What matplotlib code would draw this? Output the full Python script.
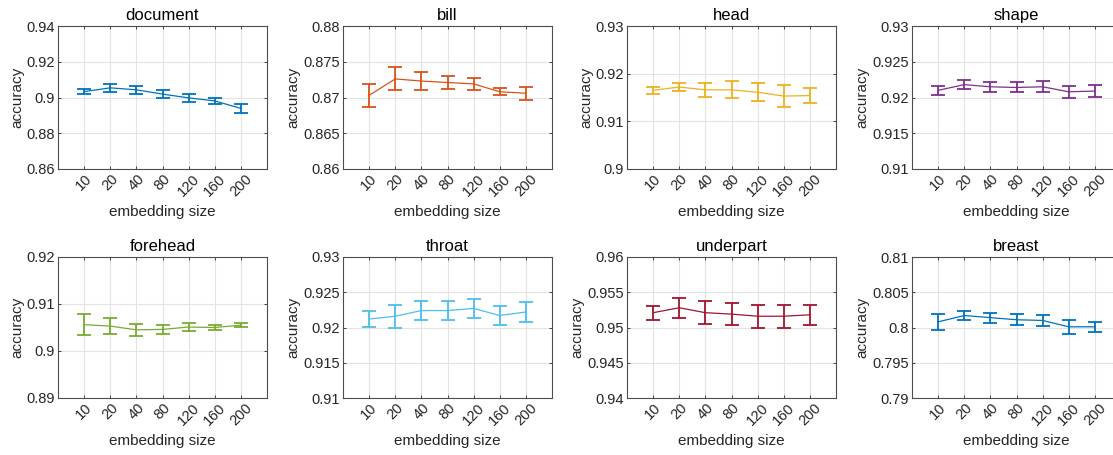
import numpy as np
import matplotlib.pyplot as plt
from matplotlib.ticker import FuncFormatter

plt.rcParams['font.family'] = ['Liberation Sans', 'DejaVu Sans']

sizes = ['10', '20', '40', '80', '120', '160', '200']
titles = ['document', 'bill', 'head', 'shape', 'forehead', 'throat', 'underpart', 'breast']
colors = ['#0072BD', '#D95319', '#EDB120', '#7E2F8E', '#77AC30', '#4DBEEE', '#A2142F', '#0072BD']

document_acc = [0.9033, 0.9054, 0.9043, 0.9019, 0.8998, 0.8981, 0.8939]
document_err = [0.0016, 0.0024, 0.0022, 0.0024, 0.0023, 0.0015, 0.0024]
bill_acc = [0.8703, 0.8726, 0.8723, 0.8721, 0.8719, 0.8708, 0.8706]
bill_err = [0.0016, 0.0016, 0.0012, 0.0009, 0.0008, 0.0005, 0.0009]
head_acc = [0.9165, 0.9172, 0.9166, 0.9166, 0.9161, 0.9153, 0.9154]
head_err = [0.0007, 0.0009, 0.0015, 0.0018, 0.0019, 0.0023, 0.0016]
shape_acc = [0.9210, 0.9218, 0.9215, 0.9214, 0.9215, 0.9208, 0.9209]
shape_err = [0.0006, 0.0006, 0.0007, 0.0007, 0.0008, 0.0008, 0.0008]
forehead_acc = [0.9056, 0.9053, 0.9045, 0.9046, 0.9051, 0.9050, 0.9055]
forehead_err = [0.0023, 0.0017, 0.0013, 0.0010, 0.0008, 0.0006, 0.0005]
throat_acc = [0.9212, 0.9216, 0.9224, 0.9224, 0.9227, 0.9217, 0.9222]
throat_err = [0.0011, 0.0016, 0.0013, 0.0014, 0.0014, 0.0013, 0.0014]
underpart_acc = [0.9521, 0.9528, 0.9521, 0.9519, 0.9516, 0.9516, 0.9518]
underpart_err = [0.0010, 0.0014, 0.0016, 0.0016, 0.0016, 0.0016, 0.0014]
breast_acc = [0.8008, 0.8017, 0.8014, 0.8011, 0.8010, 0.8001, 0.8001]
breast_err = [0.0011, 0.0007, 0.0007, 0.0008, 0.0008, 0.0010, 0.0007]

accs = [document_acc, bill_acc, head_acc, shape_acc, forehead_acc, throat_acc, underpart_acc, breast_acc]
errs = [document_err, bill_err, head_err, shape_err, forehead_err, throat_err, underpart_err, breast_err]
ylims = [(0.86, 0.94), (0.86, 0.88), (0.90, 0.93), (0.91, 0.93),
         (0.89, 0.92), (0.91, 0.93), (0.94, 0.96), (0.79, 0.81)]
ysteps = [0.02, 0.005, 0.01, 0.005, 0.01, 0.005, 0.005, 0.005]

W, H = 1113, 455
fig = plt.figure(figsize=(W / 100, H / 100), dpi=100)
lefts = [58, 343, 627, 912]
rows = [(26, 169), (257, 398)]
axw = 209

x = np.arange(1, len(sizes) + 1)
edge = '#262626'
for i in range(8):
    r, c = divmod(i, 4)
    top, bot = rows[r]
    ax = fig.add_axes([lefts[c] / W, 1 - bot / H, axw / W, (bot - top) / H])
    ax.errorbar(x, accs[i], yerr=errs[i], color=colors[i], lw=0.9,
                elinewidth=1.3, capsize=5, capthick=1.3)
    ax.set_xlim(0, 8)
    lo, hi = ylims[i]
    ax.set_ylim(lo, hi)
    ax.set_yticks(np.linspace(lo, hi, int(round((hi - lo) / ysteps[i])) + 1))
    ax.yaxis.set_major_formatter(FuncFormatter(lambda v, p: '%g' % round(v, 4)))
    ax.set_xticks(x)
    ax.set_xticklabels(sizes, rotation=45, ha='center', va='top', rotation_mode='default')
    ax.grid(True, color='#e3e3e3', lw=0.8)
    ax.set_axisbelow(True)
    ax.tick_params(direction='in', length=2.5, width=0.6, top=True, right=True,
                   labelsize=10.5, colors=edge, pad=2)
    for s in ax.spines.values():
        s.set_color('#4d4d4d')
        s.set_linewidth(0.8)
    ax.set_title(titles[i], fontsize=12, color='black', pad=4)
    ax.set_xlabel('embedding size', fontsize=11, color=edge, labelpad=4)
    ax.set_ylabel('accuracy', fontsize=11, color=edge, labelpad=2)

plt.savefig('out.png', dpi=100)
